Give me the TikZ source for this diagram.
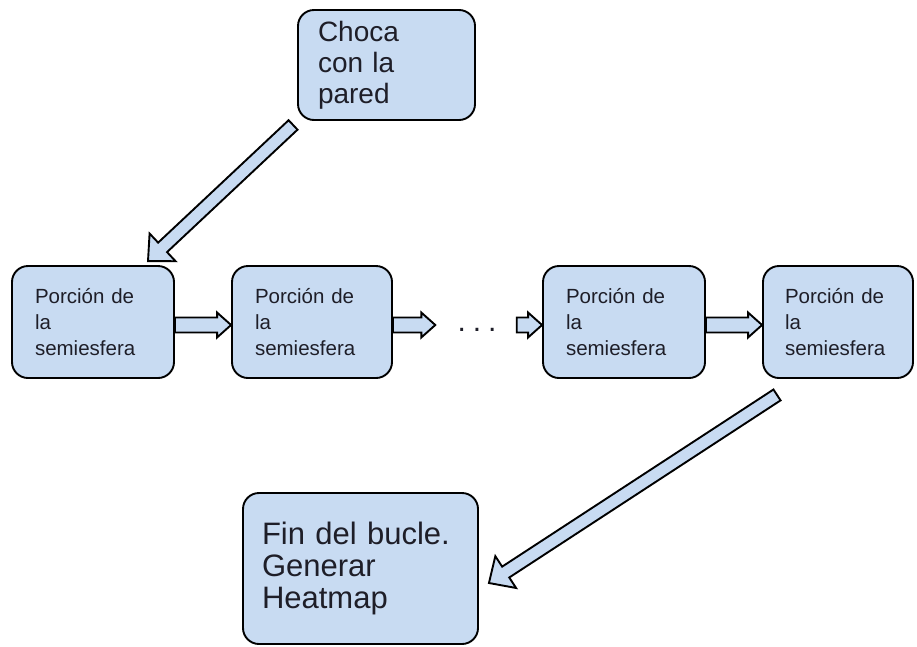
\documentclass[tikz,border=0pt]{standalone}
\usepackage{fontspec}
\setmainfont{Liberation Sans}
\usetikzlibrary{calc}
\definecolor{boxfill}{RGB}{200,219,242}
\definecolor{ink}{RGB}{30,30,40}

% outlined block arrow from #1 (tail centre) to #2 (tip)
% #3 shaft half-width, #4 head half-width, #5 head length
\newcommand{\blockarrow}[5]{%
  \coordinate (ba-base) at ($(#2)!#5!(#1)$);
  \draw[arrowbody]
    ($(#1)!#3!90:(#2)$) -- ($(ba-base)!#3!90:(#2)$) --
    ($(ba-base)!#4!90:(#2)$) -- (#2) --
    ($(ba-base)!#4!-90:(#2)$) -- ($(ba-base)!#3!-90:(#2)$) --
    ($(#1)!#3!-90:(#2)$) -- cycle;}

\tikzset{
  stagebox/.style={draw=black, fill=boxfill, line width=1.9pt, rounded corners=16pt,
    align=left, text=ink, inner xsep=0pt, inner ysep=0pt},
  smallbox/.style={stagebox, font=\fontsize{20.5}{26}\selectfont,
    minimum height=112pt},
  arrowbody/.style={draw=black, fill=boxfill, line width=1.9pt, line join=miter},
}

\begin{document}
\begin{tikzpicture}[x=1pt,y=-1pt]
\useasboundingbox (0,0) rectangle (917,646);

% nodes
\node[stagebox, font=\fontsize{28}{31}\selectfont, minimum width=177pt, minimum height=110pt,
      text width=137pt] (top) at (386.5,65) {Choca\\con la\\pared};
\node[smallbox, minimum width=162pt, text width=116pt] (b1) at (93,322) {Porción de\\la\\semiesfera};
\node[smallbox, minimum width=160pt, text width=114pt] (b2) at (312,322) {Porción de\\la\\semiesfera};
\node[smallbox, minimum width=162pt, text width=116pt] (b3) at (624,322) {Porción de\\la\\semiesfera};
\node[smallbox, minimum width=150pt, text width=106pt] (b4) at (838,322) {Porción de\\la\\semiesfera};
\node[stagebox, font=\fontsize{31}{32}\selectfont, minimum width=235pt, minimum height=151pt,
      text width=197pt] (bot) at (360.5,568.5) {Fin del bucle.\\Generar\\Heatmap};
\node[font=\fontsize{30}{30}\selectfont, text=ink, inner sep=0pt] (dots) at (477,330)
      {.\hspace{7pt}.\hspace{7pt}.};

% free ends of the connectors
\coordinate (t1) at ([shift={(-4,4)}]top.south west);
\coordinate (h1) at ([shift={(55,-4)}]b1.north);
\coordinate (a1s) at ([shift={(0,3)}]b1.east);
\coordinate (a1e) at ([shift={(0,3)}]b2.west);
\coordinate (a2s) at ([shift={(0,3)}]b2.east);
\coordinate (a2e) at ([shift={(-22,-5)}]dots.west);
\coordinate (a3s) at ([shift={(20,-5)}]dots.east);
\coordinate (a3e) at ([shift={(0,3)}]b3.west);
\coordinate (a4s) at ([shift={(0,3)}]b3.east);
\coordinate (a4e) at ([shift={(0,3)}]b4.west);
\coordinate (t2) at ([shift={(-61,16)}]b4.south);
\coordinate (h2) at ([shift={(10,14.5)}]bot.east);

% connectors
\blockarrow{t1}{h1}{6.5pt}{19pt}{20pt}
\blockarrow{a1s}{a1e}{7.5pt}{12.5pt}{14pt}
\blockarrow{a2s}{a2e}{7.5pt}{12.5pt}{14pt}
\blockarrow{a3s}{a3e}{7.5pt}{12.5pt}{14pt}
\blockarrow{a4s}{a4e}{7.5pt}{12.5pt}{14pt}
\blockarrow{t2}{h2}{6.5pt}{19pt}{20pt}
\end{tikzpicture}
\end{document}
